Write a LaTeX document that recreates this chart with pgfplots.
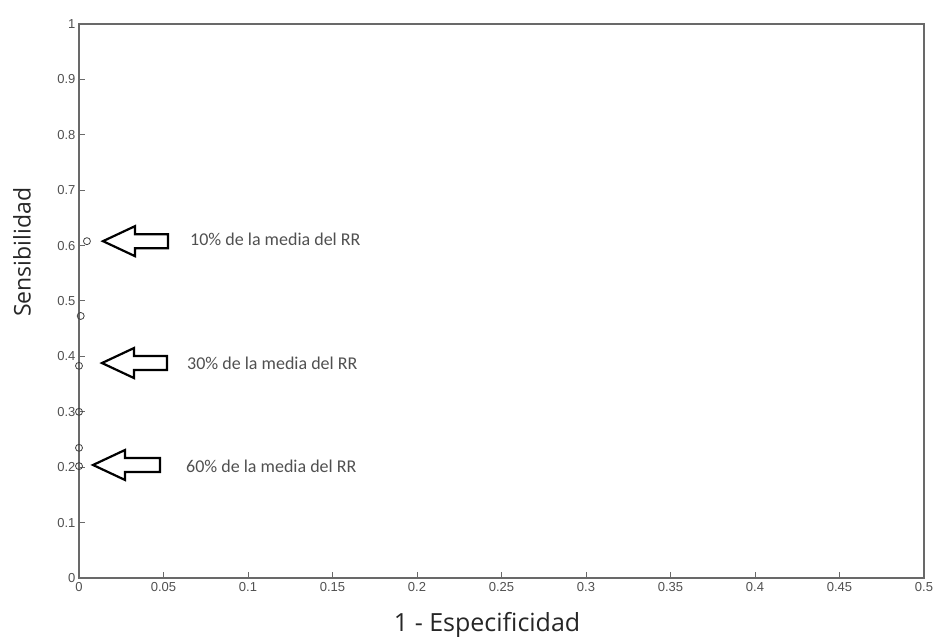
\documentclass[border=0pt]{standalone}
\usepackage{fontspec}
\setmainfont{Carlito}
\newfontfamily\labfont{Open Sans}
\newfontfamily\tickfont{Liberation Sans}
\usepackage{pgfplots}
\pgfplotsset{compat=1.18}
\definecolor{axgray}{RGB}{105,105,105}
\definecolor{txtgray}{RGB}{80,80,80}
\newcommand{\blockarrow}[3]{% tip x, y, shaft length
  \draw[line width=2.2pt, fill=white, line join=miter] (axis cs:#1,#2) -- ++(32pt,15pt) -- ++(0,-8pt) -- ++(#3,0) -- ++(0,-14pt) -- ++(-#3,0) -- ++(0,-8pt) -- cycle;}
\begin{document}
\begin{tikzpicture}
\useasboundingbox (0,0) rectangle (936pt,637pt);
\begin{axis}[
  at={(79pt,59pt)}, anchor=south west,
  scale only axis, width=845pt, height=554pt,
  xmin=0, xmax=0.5, ymin=0, ymax=1,
  xtick={0,0.05,0.1,0.15,0.2,0.25,0.3,0.35,0.4,0.45,0.5},
  xticklabels={0,0.05,0.1,0.15,0.2,0.25,0.3,0.35,0.4,0.45,0.5},
  ytick={0,0.1,0.2,0.3,0.4,0.5,0.6,0.7,0.8,0.9,1},
  yticklabels={0,0.1,0.2,0.3,0.4,0.5,0.6,0.7,0.8,0.9,1},
  tick align=inside, tick pos=left, major tick length=6pt,
  axis line style={axgray, line width=1.3pt},
  tick style={axgray, line width=1pt},
  tick label style={font=\tickfont\fontsize{13}{15}\selectfont, text=txtgray},
  xticklabel style={yshift=-1pt},
  xlabel={1 - Especificidad}, ylabel={Sensibilidad},
  ylabel style={font=\labfont\fontsize{23}{26}\selectfont, text=black!85, at={(axis description cs:-0.0675,0.588)}, anchor=center},
  xlabel style={font=\labfont\fontsize{25}{28}\selectfont, text=black!85, at={(axis description cs:0.483,-0.084)}, anchor=center},
  clip=false,
]
\addplot[only marks, mark=o, mark size=3.5pt, draw=black!75, mark options={line width=0.8pt}]
  coordinates {(0.0047,0.608) (0.001,0.473) (0,0.383) (0,0.30) (0,0.235) (0,0.202)};
\blockarrow{0.0142}{0.608}{33pt}
\blockarrow{0.0136}{0.388}{33pt}
\blockarrow{0.0083}{0.204}{35pt}
\node[anchor=west, inner sep=0pt, font=\fontsize{18}{20}\selectfont, text=txtgray] at (axis cs:0.0657,0.612) {10\% de la media del RR};
\node[anchor=west, inner sep=0pt, font=\fontsize{18}{20}\selectfont, text=txtgray] at (axis cs:0.0639,0.388) {30\% de la media del RR};
\node[anchor=west, inner sep=0pt, font=\fontsize{18}{20}\selectfont, text=txtgray] at (axis cs:0.0633,0.202) {60\% de la media del RR};
\end{axis}
\end{tikzpicture}
\end{document}
